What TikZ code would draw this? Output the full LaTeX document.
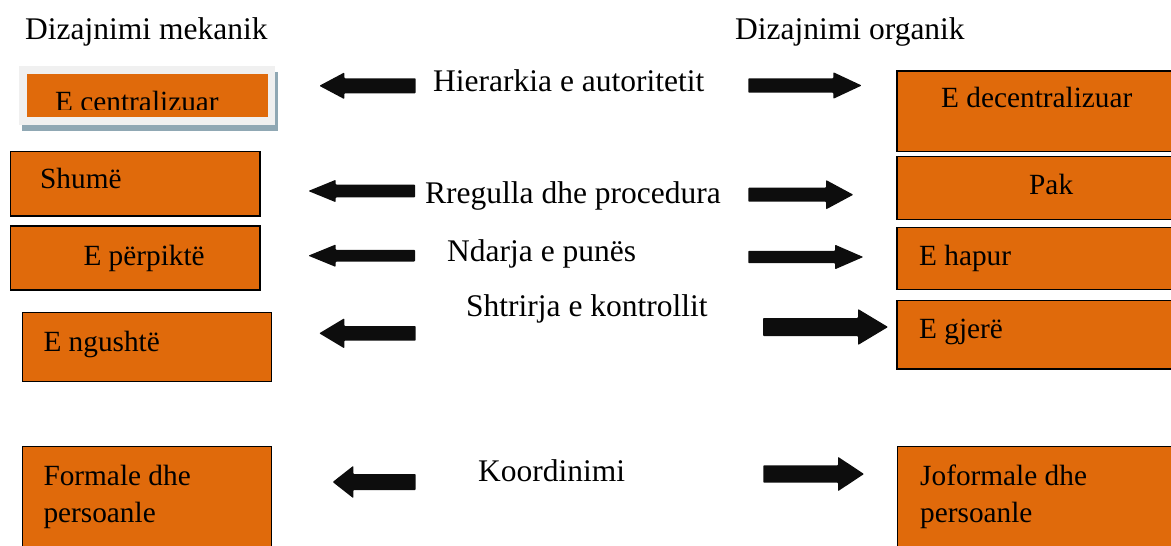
\documentclass[tikz,border=0pt]{standalone}
\usepackage{fontspec}
\setmainfont{Liberation Serif}
\definecolor{boxorange}{HTML}{E06A0B}
\definecolor{framegray}{HTML}{F0F0F0}
\definecolor{shadowblue}{HTML}{90A8B4}
\tikzset{
  obox/.style={draw=black, line width=1.4pt, fill=boxorange},
  boxtext/.style={anchor=base west, inner sep=0pt, font=\fontsize{29.3}{37.7}\selectfont},
  midtext/.style={anchor=base west, inner sep=0pt, font=\fontsize{31.5}{38}\selectfont},
  arrowfill/.style={fill=black!95, rounded corners=0.8pt}
}
% block arrow: tail x, head-base x, tip x, centre y, shaft half-height, head half-height
\newcommand\blockarrow[6]{%
  \fill[arrowfill] ({#1},{#4-#5}) -- ({#2},{#4-#5}) -- ({#2},{#4-#6}) -- ({#3},{#4})
    -- ({#2},{#4+#6}) -- ({#2},{#4+#5}) -- ({#1},{#4+#5}) -- cycle;}
\begin{document}
\begin{tikzpicture}[x=1pt, y=-1pt]
\useasboundingbox (0,0) rectangle (1171,546);
\clip (0,0) rectangle (1171,546);

% column titles
\node[midtext] (mekanik) at (25,39) {Dizajnimi mekanik};
\node[midtext] (organik) at (735,39) {Dizajnimi organik};

% first left box: framed orange panel with a soft shadow
\fill[shadowblue] (22,71.7) rectangle (278.3,131);
\fill[framegray] (19.3,66) rectangle (275.3,125.3);
\fill[boxorange] (26.7,74.3) rectangle (267.7,117.3);
\begin{scope}
  \clip (26.7,74.3) rectangle (267.7,109.5);
  \node[boxtext] (centr) at (55,111.5) {E centralizuar};
\end{scope}

% left column boxes
\draw[obox] (10.7,151.7) rectangle (260,216);
\node[boxtext] (shume) at (40,188) {Shumë};
\draw[obox] (10.7,226) rectangle (260,290);
\node[boxtext] (perpikte) at (83.3,265) {E përpiktë};
\draw[obox] (22.7,312.7) rectangle (271.7,381.7);
\node[boxtext] (ngushte) at (43.3,351) {E ngushtë};
\draw[obox] (22.7,446.7) rectangle (271.7,550);
\node[boxtext] (formale1) at (43.3,485) {Formale dhe};
\node[boxtext] (formale2) at (43.3,522.7) {persoanle};

% right column boxes
\draw[obox] (897,71) rectangle (1175,151.7);
\node[boxtext] (decentr) at (941,107.7) {E decentralizuar};
\draw[obox] (897,156.7) rectangle (1175,219.3);
\node[boxtext] (pak) at (1029,194) {Pak};
\draw[obox] (897,227.3) rectangle (1175,289.3);
\node[boxtext] (hapur) at (919,265) {E hapur};
\draw[obox] (897,300.7) rectangle (1175,369);
\node[boxtext] (gjere) at (919,338) {E gjerë};
\draw[obox] (897.7,446.7) rectangle (1175,550);
\node[boxtext] (joformale1) at (920,485) {Joformale dhe};
\node[boxtext] (joformale2) at (920,522.7) {persoanle};

% dimension labels
\node[midtext] (hierarkia) at (433,91) {Hierarkia e autoritetit};
\node[midtext] (rregulla) at (425,203) {Rregulla dhe procedura};
\node[midtext] (ndarja) at (447,261) {Ndarja e punës};
\node[midtext] (shtrirja) at (466,316) {Shtrirja e kontrollit};
\node[midtext] (koordinimi) at (478,481) {Koordinimi};

% block arrows
\blockarrow{415.7}{344.3}{319.3}{85.8}{7.5}{13.3}
\blockarrow{748.3}{833.3}{861.7}{85.5}{7.2}{13.3}
\blockarrow{415}{335.7}{308.3}{191}{6.3}{11.2}
\blockarrow{748.3}{826}{853.3}{194.7}{7}{14.7}
\blockarrow{415}{335.7}{308.3}{255.7}{5.8}{11.2}
\blockarrow{748.3}{835}{863.3}{257}{6.2}{12.3}
\blockarrow{415.7}{344.3}{319.3}{333.3}{7.3}{15}
\blockarrow{763}{858}{888}{327}{9}{18}
\blockarrow{415.7}{353.3}{332.7}{482}{8}{16.2}
\blockarrow{763.3}{838}{864}{474}{8.7}{17.2}
\end{tikzpicture}
\end{document}
